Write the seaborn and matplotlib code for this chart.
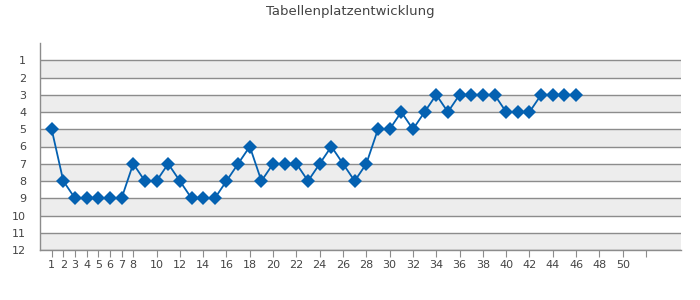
import matplotlib
matplotlib.use("Agg")
import matplotlib.pyplot as plt
import seaborn as sns
import pandas as pd

matchdays = list(range(1, 47))
positions = [5, 8, 9, 9, 9, 9, 9, 7, 8, 8, 7, 8, 9, 9, 9, 8, 7, 6, 8, 7,
             7, 7, 8, 7, 6, 7, 8, 7, 5, 5, 4, 5, 4, 3, 4, 3, 3, 3, 3, 4,
             4, 4, 3, 3, 3, 3]
x_ticks = [1, 2, 3, 4, 5, 6, 7, 8] + list(range(10, 53, 2))
y_ticks = list(range(1, 13))
title = "Tabellenplatzentwicklung"

df = pd.DataFrame({"Spieltag": matchdays, "Platz": positions})

sns.set_style("white")
plt.rcParams['font.family'] = ['DejaVu Sans']

fig = plt.figure(figsize=(7, 3), dpi=100)
ax = fig.add_axes([40/700, 50/300, 641/700, 207/300])

# alternating bands
for k in range(1, 12, 2):
    ax.axhspan(k, k + 1, color="#ededed", zorder=0, lw=0)
for k in y_ticks:
    ax.axhline(k, color="#8c8c8c", lw=1.0, zorder=1)

sns.lineplot(data=df, x="Spieltag", y="Platz", ax=ax, color="#0461b1",
             marker="D", markersize=7, markeredgewidth=0, lw=1.3, zorder=3)

ax.set_xlim(0, 55)
ax.set_ylim(12, 0)
ax.set_yticks(y_ticks)
ax.set_yticklabels([str(v) for v in y_ticks])
ax.set_xticks(x_ticks)
ax.set_xticklabels(["" if t == 52 else str(t) for t in x_ticks])

ax.set_xlabel("")
ax.set_ylabel("")
for s in ["top", "right"]:
    ax.spines[s].set_visible(False)
for s in ["left", "bottom"]:
    ax.spines[s].set_color("#8c8c8c")
    ax.spines[s].set_linewidth(1.0)
ax.tick_params(axis="x", length=5, color="#8c8c8c", labelsize=8, labelcolor="#444444", pad=2, direction="out", bottom=True)
ax.tick_params(axis="y", length=0, labelsize=8, labelcolor="#444444", pad=10)

fig.text(0.5, 0.96, title, ha="center", va="center", fontsize=9.5, color="#444444")

fig.savefig("out.png", dpi=100)
